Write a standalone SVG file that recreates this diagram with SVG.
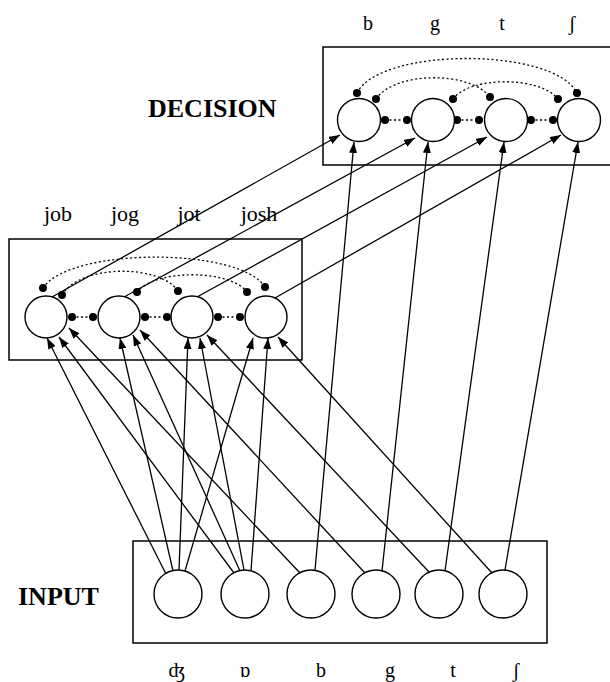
<svg xmlns="http://www.w3.org/2000/svg" width="610" height="682" viewBox="0 0 610 682">
<style>
.box{fill:none;stroke:#000;stroke-width:1.5}
.node{fill:#fff;stroke:#000;stroke-width:1.4}
.lbl{font-family:"Liberation Serif","DejaVu Serif",serif;fill:#000;text-anchor:middle}
.ph{font-size:20px}
.wd{font-size:22px}
.title{font-family:"Liberation Serif",serif;font-size:26px;font-weight:bold;fill:#000}
.edge{fill:none;stroke:#000;stroke-width:1.3;marker-end:url(#arr)}
.inh{fill:none;stroke:#000;stroke-width:1.3;stroke-dasharray:2 2.5}
.dot{fill:#000}
</style>
<defs>
<marker id="arr" markerUnits="userSpaceOnUse" markerWidth="11" markerHeight="8" refX="11" refY="4" orient="auto">
<path d="M0,0 L11,4 L0,8 z" fill="#000"/>
</marker>
</defs>
<rect width="610" height="682" fill="#fff"/>
<!-- layer boxes -->
<rect class="box" x="323" y="47" width="300" height="118"/>
<rect class="box" x="9" y="239" width="293" height="121"/>
<rect class="box" x="133" y="541" width="414" height="102"/>
<text class="title" x="148" y="117">DECISION</text>
<text class="title" x="18" y="605">INPUT</text>

<g id="connectors">
<!-- input to words -->
<line class="edge" x1="166" y1="574" x2="47" y2="338"/>
<line class="edge" x1="234" y1="573" x2="59" y2="337"/>
<line class="edge" x1="300" y1="573" x2="69" y2="328"/>
<line class="edge" x1="173" y1="571" x2="120" y2="338"/>
<line class="edge" x1="240" y1="571" x2="133" y2="335"/>
<line class="edge" x1="365" y1="573" x2="140" y2="330"/>
<line class="edge" x1="179" y1="570" x2="188" y2="338"/>
<line class="edge" x1="244" y1="570" x2="200" y2="338"/>
<line class="edge" x1="429" y1="572" x2="207" y2="335"/>
<line class="edge" x1="185" y1="571" x2="253" y2="338"/>
<line class="edge" x1="251" y1="571" x2="268" y2="338"/>
<line class="edge" x1="492" y1="573" x2="278" y2="337"/>
<!-- input to decision -->
<line class="edge" x1="315" y1="570" x2="354" y2="142"/>
<line class="edge" x1="382" y1="571" x2="428" y2="142"/>
<line class="edge" x1="445" y1="571" x2="504" y2="142"/>
<line class="edge" x1="505" y1="570" x2="578" y2="142"/>
<!-- words to decision -->
<line class="edge" x1="52" y1="297" x2="340" y2="135"/>
<line class="edge" x1="124" y1="297" x2="415" y2="138"/>
<line class="edge" x1="197" y1="297" x2="487" y2="137"/>
<line class="edge" x1="275" y1="298" x2="561" y2="135"/>
<!-- inhibitory links, word layer -->
<line class="inh" x1="72" y1="317" x2="93" y2="317"/>
<line class="inh" x1="145" y1="317" x2="167" y2="317"/>
<line class="inh" x1="218" y1="317" x2="240" y2="317"/>
<path class="inh" d="M43,288 C70,247 240,247 265,287"/>
<path class="inh" d="M62,295 C80,264 160,264 178,291"/>
<path class="inh" d="M137,292 C155,269 230,269 247,292"/>
<g class="dot">
<circle cx="72" cy="317" r="4"/><circle cx="93" cy="317" r="4"/>
<circle cx="145" cy="317" r="4"/><circle cx="167" cy="317" r="4"/>
<circle cx="218" cy="317" r="4"/><circle cx="240" cy="317" r="4"/>
<circle cx="43" cy="288" r="4"/><circle cx="265" cy="287" r="4"/>
<circle cx="62" cy="295" r="4"/><circle cx="178" cy="291" r="4"/>
<circle cx="137" cy="292" r="4"/><circle cx="247" cy="292" r="4"/>
</g>
<!-- inhibitory links, decision layer -->
<line class="inh" x1="385" y1="120" x2="407" y2="120"/>
<line class="inh" x1="457" y1="120" x2="479" y2="120"/>
<line class="inh" x1="531" y1="120" x2="553" y2="120"/>
<path class="inh" d="M357,93 C380,47 554,47 577,93"/>
<path class="inh" d="M376,99 C395,71 470,71 490,97"/>
<path class="inh" d="M453,99 C470,76 540,76 558,99"/>
<g class="dot">
<circle cx="385" cy="120" r="4"/><circle cx="407" cy="120" r="4"/>
<circle cx="457" cy="120" r="4"/><circle cx="479" cy="120" r="4"/>
<circle cx="531" cy="120" r="4"/><circle cx="553" cy="120" r="4"/>
<circle cx="357" cy="93" r="4"/><circle cx="577" cy="93" r="4"/>
<circle cx="376" cy="99" r="4"/><circle cx="490" cy="97" r="4"/>
<circle cx="453" cy="99" r="4"/><circle cx="558" cy="99" r="4"/>
</g>
</g>

<!-- decision nodes -->
<g id="dec-b"><circle class="node" cx="359" cy="120" r="21.5"/><text class="lbl ph" x="368" y="30">b</text></g>
<g id="dec-g"><circle class="node" cx="433" cy="120" r="21.5"/><text class="lbl ph" x="435" y="30">g</text></g>
<g id="dec-t"><circle class="node" cx="506" cy="120" r="21.5"/><text class="lbl ph" x="502" y="30">t</text></g>
<g id="dec-sh"><circle class="node" cx="579" cy="120" r="21.5"/><text class="lbl ph" x="572" y="30">ʃ</text></g>

<!-- word nodes -->
<g id="w-job"><circle class="node" cx="46" cy="317" r="21"/><text class="lbl wd" x="58" y="221">job</text></g>
<g id="w-jog"><circle class="node" cx="119" cy="317" r="21"/><text class="lbl wd" x="125" y="221">jog</text></g>
<g id="w-jot"><circle class="node" cx="192" cy="317" r="21"/><text class="lbl wd" x="189" y="221">jot</text></g>
<g id="w-josh"><circle class="node" cx="266" cy="317" r="21"/><text class="lbl wd" x="259" y="221">josh</text></g>

<!-- input nodes -->
<g id="in-dzh"><circle class="node" cx="178" cy="594" r="24"/><text class="lbl ph" x="177" y="677">ʤ</text></g>
<g id="in-o"><circle class="node" cx="245" cy="594" r="24"/><text class="lbl ph" x="245" y="677">ɒ</text></g>
<g id="in-b"><circle class="node" cx="311" cy="594" r="24"/><text class="lbl ph" x="321" y="677">b</text></g>
<g id="in-g"><circle class="node" cx="376" cy="594" r="24"/><text class="lbl ph" x="390" y="677">g</text></g>
<g id="in-t"><circle class="node" cx="439" cy="594" r="24"/><text class="lbl ph" x="453" y="677">t</text></g>
<g id="in-sh"><circle class="node" cx="503" cy="594" r="24"/><text class="lbl ph" x="516" y="677">ʃ</text></g>
</svg>
